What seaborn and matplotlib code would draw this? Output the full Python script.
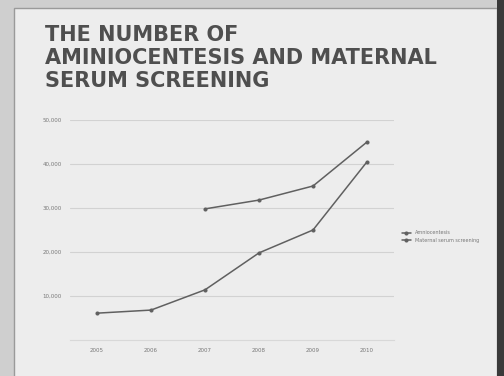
import pandas as pd
import matplotlib.pyplot as plt
import seaborn as sns
from matplotlib.patches import Rectangle

years = ["2005", "2006", "2007", "2008", "2009", "2010"]
amnio = [6100, 6800, 11400, 19800, 25000, 40500]
serum = [None, None, 29800, 31800, 35000, 45000]
y_ticks = [10000, 20000, 30000, 40000, 50000]

df = pd.DataFrame({
    "year": years * 2,
    "count": amnio + serum,
    "test": ["Amniocentesis"] * 6 + ["Maternal serum screening"] * 6,
}).dropna()

sns.set_style("white")
fig = plt.figure(figsize=(5.04, 3.76), dpi=100)
fig.patch.set_facecolor("#cfcfcf")

# background: slide panel + dark right edge of the photo
bg = fig.add_axes([0, 0, 1, 1], zorder=-1)
bg.set_xlim(0, 504)
bg.set_ylim(376, 0)
bg.axis("off")
bg.add_patch(Rectangle((14, 8), 483, 370, facecolor="#ededed",
                       edgecolor="#9a9a9a", lw=1))
bg.add_patch(Rectangle((497, 0), 7, 376, facecolor="#3a3a3a", lw=0))

bg.text(45, 25, "THE NUMBER OF\nAMINIOCENTESIS AND MATERNAL\nSERUM SCREENING",
        fontsize=15, fontweight="heavy", color="#4f4f4f", va="top",
        ha="left", linespacing=1.2)

ax = fig.add_axes([70 / 504, 36 / 376, 324 / 504, 220 / 376])
ax.set_facecolor("none")
sns.lineplot(data=df, x="year", y="count", hue="test", sort=False,
             palette=["#606060", "#606060"], lw=1.1, marker="o", ms=2.2,
             mec="#606060", ax=ax)

ax.set_xlim(-0.5, 5.5)
ax.set_ylim(0, 50000)
ax.set_yticks(y_ticks)
ax.set_yticklabels([f"{v:,}" for v in y_ticks])
ax.grid(axis="y", color="#d2d2d2", lw=0.8)
ax.tick_params(length=0, labelsize=4, labelcolor="#777777", pad=6)
ax.set_xlabel("")
ax.set_ylabel("")
for s in ["top", "right", "left"]:
    ax.spines[s].set_visible(False)
ax.spines["bottom"].set_color("#d8d8d8")

ax.legend(loc="center left", bbox_to_anchor=(1.01, 0.47), frameon=False,
          fontsize=3.5, handlelength=2, labelcolor="#777777")

fig.savefig("out.png", dpi=100, facecolor=fig.get_facecolor())
